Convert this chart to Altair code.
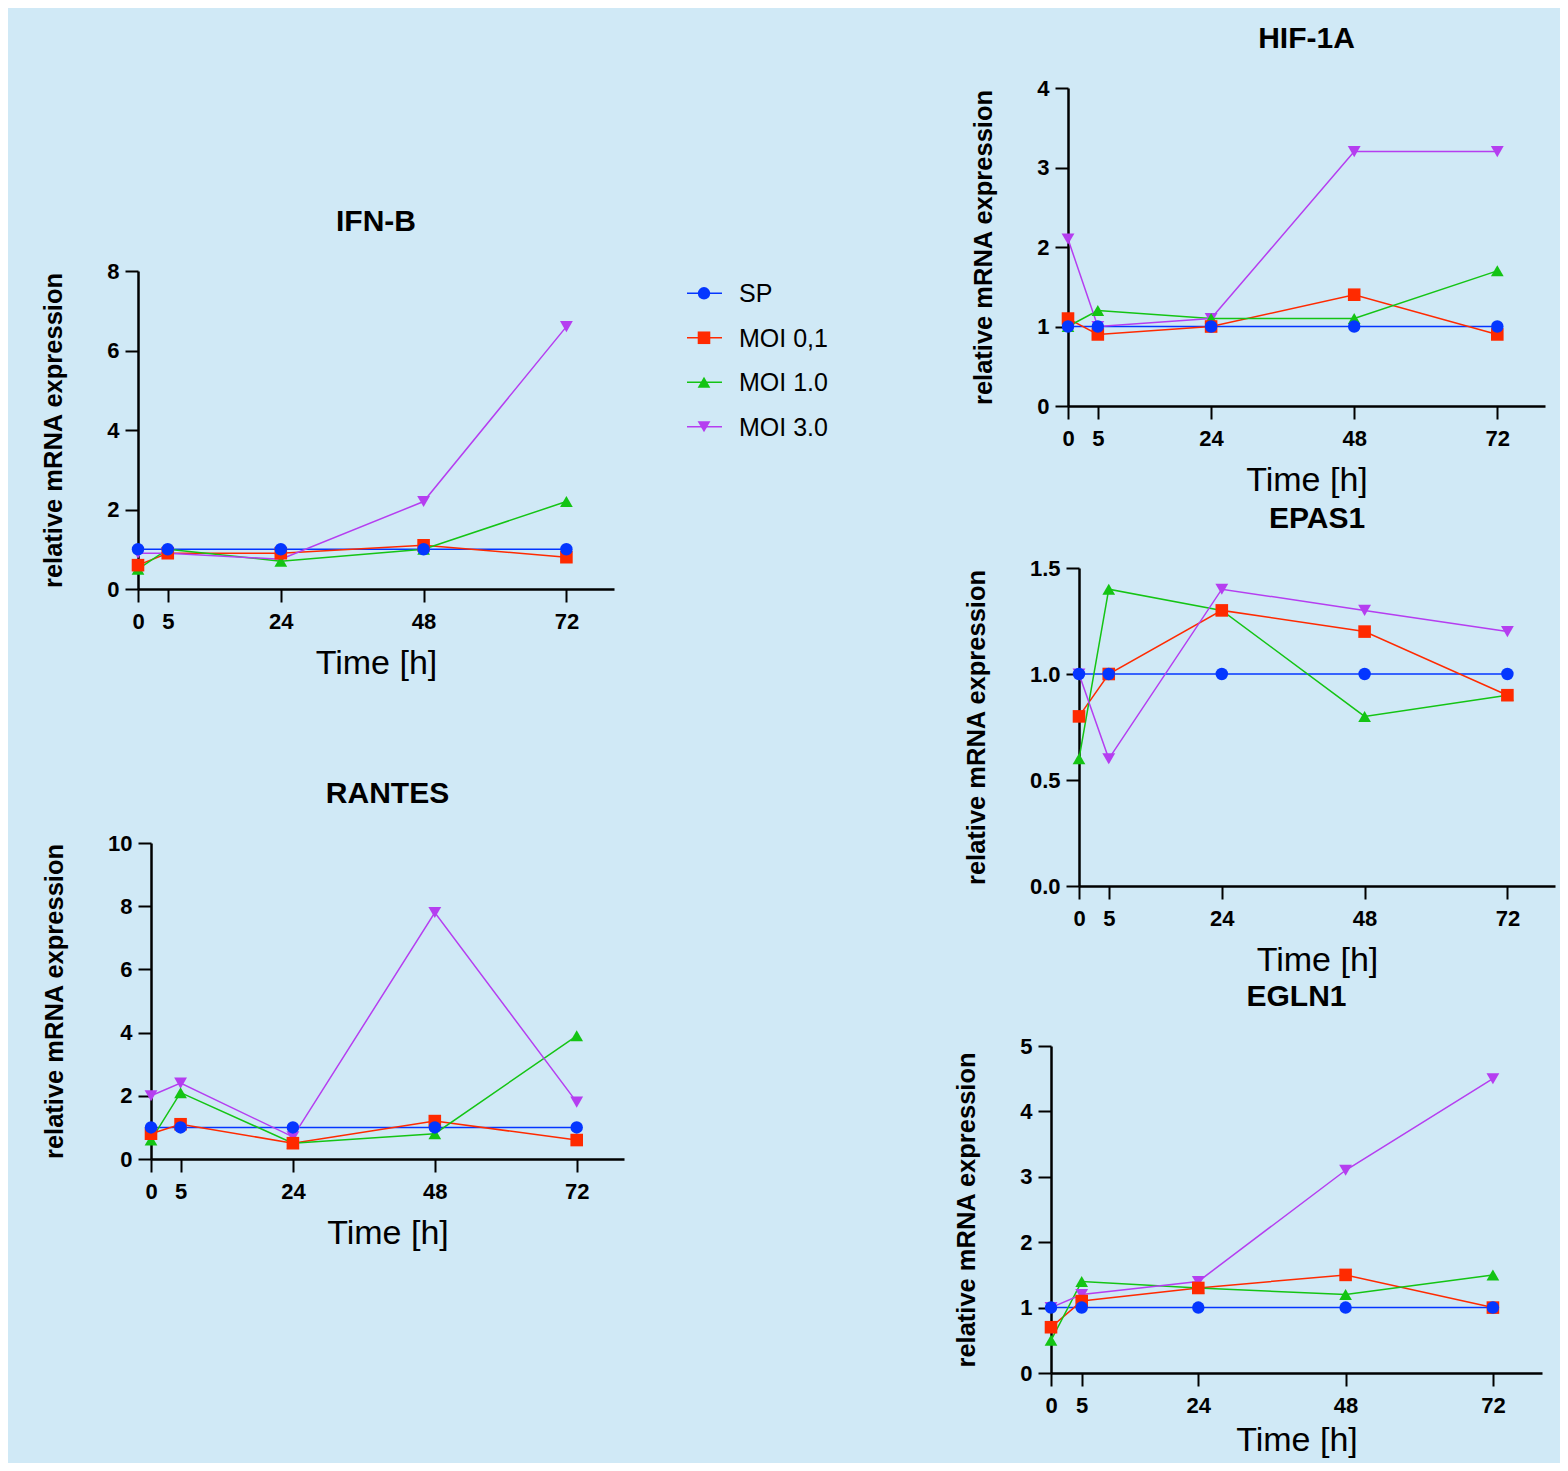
import altair as alt
import pandas as pd

# ---------------- data ----------------
times = [0, 5, 24, 48, 72]
series_names = ["SP", "MOI 0,1", "MOI 1.0", "MOI 3.0"]
series_colors = ["#0436ff", "#ff2a00", "#14c414", "#b53ef0"]
series_shapes = ["circle", "square", "triangle-up", "triangle-down"]
series_sizes = [155, 165, 160, 160]

ifnb_values = {
    "SP": [1.0, 1.0, 1.0, 1.0, 1.0],
    "MOI 0,1": [0.6, 0.9, 0.9, 1.1, 0.8],
    "MOI 1.0": [0.5, 1.0, 0.7, 1.0, 2.2],
    "MOI 3.0": [0.9, 0.9, 0.75, 2.2, 6.6],
}
rantes_values = {
    "SP": [1.0, 1.0, 1.0, 1.0, 1.0],
    "MOI 0,1": [0.8, 1.1, 0.5, 1.2, 0.6],
    "MOI 1.0": [0.6, 2.1, 0.5, 0.8, 3.9],
    "MOI 3.0": [2.0, 2.4, 0.7, 7.8, 1.8],
}
hif1a_values = {
    "SP": [1.0, 1.0, 1.0, 1.0, 1.0],
    "MOI 0,1": [1.1, 0.9, 1.0, 1.4, 0.9],
    "MOI 1.0": [1.0, 1.2, 1.1, 1.1, 1.7],
    "MOI 3.0": [2.1, 1.0, 1.1, 3.2, 3.2],
}
epas1_values = {
    "SP": [1.0, 1.0, 1.0, 1.0, 1.0],
    "MOI 0,1": [0.8, 1.0, 1.3, 1.2, 0.9],
    "MOI 1.0": [0.6, 1.4, 1.3, 0.8, 0.9],
    "MOI 3.0": [1.0, 0.6, 1.4, 1.3, 1.2],
}
egln1_values = {
    "SP": [1.0, 1.0, 1.0, 1.0, 1.0],
    "MOI 0,1": [0.7, 1.1, 1.3, 1.5, 1.0],
    "MOI 1.0": [0.5, 1.4, 1.3, 1.2, 1.5],
    "MOI 3.0": [1.0, 1.2, 1.4, 3.1, 4.5],
}

ifnb_yticks = [0, 2, 4, 6, 8]
rantes_yticks = [0, 2, 4, 6, 8, 10]
hif1a_yticks = [0, 1, 2, 3, 4]
epas1_yticks = [0, 0.5, 1.0, 1.5]
egln1_yticks = [0, 1, 2, 3, 4, 5]

# ---------------- layout ----------------
FONT = "Arial, Liberation Sans, Helvetica, sans-serif"
W, H = 1552, 1455
BG = "#d0e9f6"

color_scale = alt.Scale(domain=series_names, range=series_colors)
shape_scale = alt.Scale(domain=series_names, range=series_shapes)
size_scale = alt.Scale(domain=series_names, range=series_sizes)


def long_df(values):
    rows = []
    for k, name in enumerate(series_names):
        for t, v in zip(times, values[name]):
            rows.append({"time": t, "value": v, "series": name, "ord": k})
    return pd.DataFrame(rows)


def panel(title, values, ymax, yticks, x_left, x_len, y_bottom, y_len, yfmt="d", xtitle_pad=14):
    df = long_df(values)
    xs = alt.Scale(domain=[0, 80], range=[x_left, x_left + x_len], nice=False, zero=False)
    ys = alt.Scale(domain=[0, ymax], range=[y_bottom, y_bottom - y_len], nice=False, zero=False)
    xaxis = alt.Axis(orient="bottom", offset=y_bottom - H, values=times,
                     title="Time [h]", labelOverlap=False, labelFlush=False, format="d",
                     titlePadding=xtitle_pad)
    yaxis = alt.Axis(orient="left", offset=-x_left, values=yticks, format=yfmt,
                     title="relative mRNA expression", labelOverlap=False, labelFlush=False)
    x = alt.X("time:Q", scale=xs, axis=xaxis)
    y = alt.Y("value:Q", scale=ys, axis=yaxis)
    color = alt.Color("series:N", scale=color_scale, legend=None)
    lines = alt.Chart(df).mark_line(strokeWidth=1.5).encode(x=x, y=y, color=color)
    pts = alt.Chart(df).mark_point(filled=True, opacity=1, strokeWidth=0).encode(
        x=x, y=y, color=color,
        shape=alt.Shape("series:N", scale=shape_scale, legend=None),
        size=alt.Size("series:N", scale=size_scale, legend=None),
        order=alt.Order("ord:Q", sort="descending"),
    )
    tdf = pd.DataFrame({"tx": [40], "ty": [ymax], "label": [title]})
    ttl = alt.Chart(tdf).mark_text(font=FONT, fontSize=30, fontWeight="bold", color="black",
                                   align="center", baseline="alphabetic", dy=-40).encode(
        x=alt.X("tx:Q", scale=xs, axis=xaxis),
        y=alt.Y("ty:Q", scale=ys, axis=yaxis),
        text="label:N",
    )
    return alt.layer(lines, pts, ttl)


ifnb = panel("IFN-B", ifnb_values, 8, ifnb_yticks, 130, 476, 581, 318)
rantes = panel("RANTES", rantes_values, 10, rantes_yticks, 143, 473, 1151, 316)
hif1a = panel("HIF-1A", hif1a_values, 4, hif1a_yticks, 1060, 477, 398, 318)
epas1 = panel("EPAS1", epas1_values, 1.5, epas1_yticks, 1071, 476, 878, 318, ".1f")
egln1 = panel("EGLN1", egln1_values, 5, egln1_yticks, 1043, 491, 1365, 327, "d", 7)

# manual legend (line through symbol, Prism style)
legend_df = pd.DataFrame({"series": series_names, "row": list(range(len(series_names)))})
ly = alt.Y("row:Q", scale=alt.Scale(domain=[0, 3], range=[285.3, 418.7], nice=False, zero=False), axis=None)
lcolor = alt.Color("series:N", scale=color_scale, legend=None)
lrule = alt.Chart(legend_df).mark_rule(strokeWidth=1.5).encode(
    x=alt.value(679), x2=alt.value(714), y=ly, color=lcolor)
lpts = alt.Chart(legend_df).mark_point(filled=True, opacity=1, strokeWidth=0).encode(
    x=alt.value(696), y=ly, color=lcolor,
    shape=alt.Shape("series:N", scale=shape_scale, legend=None),
    size=alt.Size("series:N", scale=size_scale, legend=None))
ltxt = alt.Chart(legend_df).mark_text(font=FONT, fontSize=25, color="black", align="left",
                                      baseline="middle", dy=1).encode(
    x=alt.value(731), y=ly, text="series:N")
legend = alt.layer(lrule, lpts, ltxt)

chart = alt.layer(ifnb, rantes, hif1a, epas1, egln1, legend).resolve_scale(
    x="independent", y="independent"
).properties(
    width=W, height=H, background=BG, padding=0,
    autosize=alt.AutoSizeParams(type="none"),
).configure_view(
    strokeWidth=0
).configure_axis(
    domainColor="black", domainWidth=2.5, tickColor="black", tickWidth=2, tickSize=13,
    labelFont=FONT, labelFontSize=22, labelFontWeight="bold", labelColor="black",
    titleFont=FONT, titleColor="black", grid=False,
).configure_axisX(
    labelPadding=9, titleFontSize=34, titleFontWeight="normal",
).configure_axisY(
    labelPadding=6, titleFontSize=25.5, titleFontWeight="bold", titlePadding=40,
)

chart.save("out.html", embed_options={"renderer": "svg", "actions": False})
